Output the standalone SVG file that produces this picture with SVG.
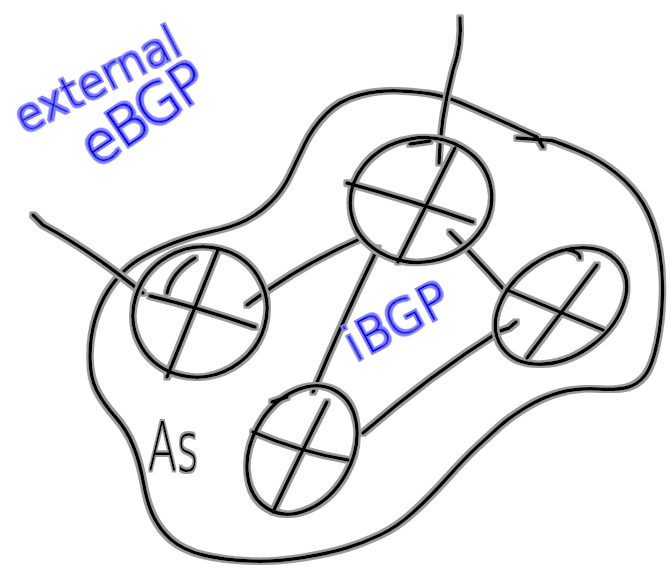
<svg xmlns="http://www.w3.org/2000/svg" width="672" height="568" viewBox="0 0 672 568">
<defs>
<filter id="halo" x="-10%" y="-10%" width="120%" height="120%">
<feMorphology in="SourceAlpha" operator="dilate" radius="2" result="d"/>
<feFlood flood-color="#9a9a9a" result="f"/>
<feComposite in="f" in2="d" operator="in" result="h"/>
<feMerge><feMergeNode in="h"/><feMergeNode in="SourceGraphic"/></feMerge>
</filter>
<filter id="bhalo" x="-10%" y="-10%" width="120%" height="120%">
<feMorphology in="SourceAlpha" operator="dilate" radius="2" result="d"/>
<feFlood flood-color="#8080ff" result="f"/>
<feComposite in="f" in2="d" operator="in" result="h"/>
<feMerge><feMergeNode in="h"/><feMergeNode in="SourceGraphic"/></feMerge>
</filter>
</defs>
<style>
.ink{fill:none;stroke:#000;stroke-width:3.5;stroke-linecap:round;stroke-linejoin:round}
.halo{filter:url(#halo)}
.blue{font-family:"DejaVu Sans","Liberation Sans",sans-serif;font-weight:200;fill:#0000f0;filter:url(#bhalo)}
.blk{font-family:"DejaVu Sans","Liberation Sans",sans-serif;font-weight:200;fill:#000;filter:url(#halo)}
</style>
<rect width="672" height="568" fill="#fff"/>
<g id="as-boundary" class="halo">
<path class="ink" d="M543,147 L537,137 L515,127 Q493,117 470.5,107 Q448,97 434,94.5 Q420,92 400,91 Q380,90 360,95 Q340,100 326.5,113.5 Q313,127 305,143.5 Q297,160 290,175 Q283,190 271.5,201.5 Q260,213 246.5,220 Q233,227 210,232 Q187,237 163.5,247 Q140,257 128.5,267 Q117,277 108.5,290 Q100,303 95,320 Q90,337 90,357 Q90,377 96.5,390 Q103,403 115,416.5 Q127,430 133.5,446.5 Q140,463 143.5,483 Q147,503 153.5,516.5 Q160,530 171.5,540 Q183,550 203,555 Q223,560 250,561 Q277,562 303.5,557.5 Q330,553 346.5,548 Q363,543 380,535 Q397,527 413.5,512 Q430,497 447.5,477.5 Q465,458 477.5,446.5 Q490,435 500,426 Q510,417 526.5,407 Q543,397 560,392.5 Q577,388 597,389 Q617,390 627,387.5 Q637,385 644.5,376 Q652,367 657,343.5 Q662,320 662.5,293.5 Q663,267 658,243.5 Q653,220 643,203.5 Q633,187 616.5,173.5 Q600,160 580,151.5 Q560,143 551.5,140.5 L517,138"/>
</g>
<g id="connectors" class="halo">
<path class="ink" d="M460,18 Q462,45 453,70 Q440,120 439,163"/>
<path class="ink" d="M33,215 L43,225 Q80,245 117,273 L143,293"/>
<path class="ink" d="M362,238 Q300,265 247,305"/>
<path class="ink" d="M378,248 Q345,315 313,392"/>
<path class="ink" d="M450,232 Q480,262 507,293"/>
<path class="ink" d="M516,322 L509,328 L500,331 Q430,375 363,433"/>
</g>
<g id="router-top" class="halo">
<ellipse class="ink" cx="421" cy="200" rx="71" ry="62" transform="rotate(-10 421 200)"/>
<path class="ink" d="M410,144 L430,141"/>
<path class="ink" d="M347,183 Q410,200 473,222"/>
<path class="ink" d="M455,148 L398,262"/>
</g>
<g id="router-left" class="halo">
<ellipse class="ink" cx="200" cy="312" rx="68" ry="64" transform="rotate(-30 200 312)"/>
<path class="ink" d="M167,293 Q172,272 195,258"/>
<path class="ink" d="M150,296 Q200,308 255,327"/>
<path class="ink" d="M218,250 L167,377"/>
</g>
<g id="router-right" class="halo">
<ellipse class="ink" cx="561" cy="306" rx="72" ry="50" transform="rotate(-35 561 306)"/>
<path class="ink" d="M568,250 Q580,252 580,258"/>
<path class="ink" d="M507,290 Q555,310 603,330"/>
<path class="ink" d="M597,265 L527,358"/>
</g>
<g id="router-bottom" class="halo">
<ellipse class="ink" cx="302" cy="450" rx="68" ry="50" transform="rotate(-60 302 450)"/>
<path class="ink" d="M272,402 L287,397"/>
<path class="ink" d="M253,432 Q300,452 348,460"/>
<path class="ink" d="M327,402 Q300,455 273,512"/>
</g>
<g id="labels">
<text class="blue" font-size="44" textLength="180" transform="translate(24,134) rotate(-27)">external</text>
<text class="blue" font-size="56" textLength="140" transform="translate(96,168) rotate(-34)">eBGP</text>
<text class="blue" font-size="48" textLength="112" transform="translate(355,362) rotate(-28)">iBGP</text>
<text class="blk" font-size="68" transform="translate(148,471) scale(0.62,1)">As</text>
</g>
</svg>
